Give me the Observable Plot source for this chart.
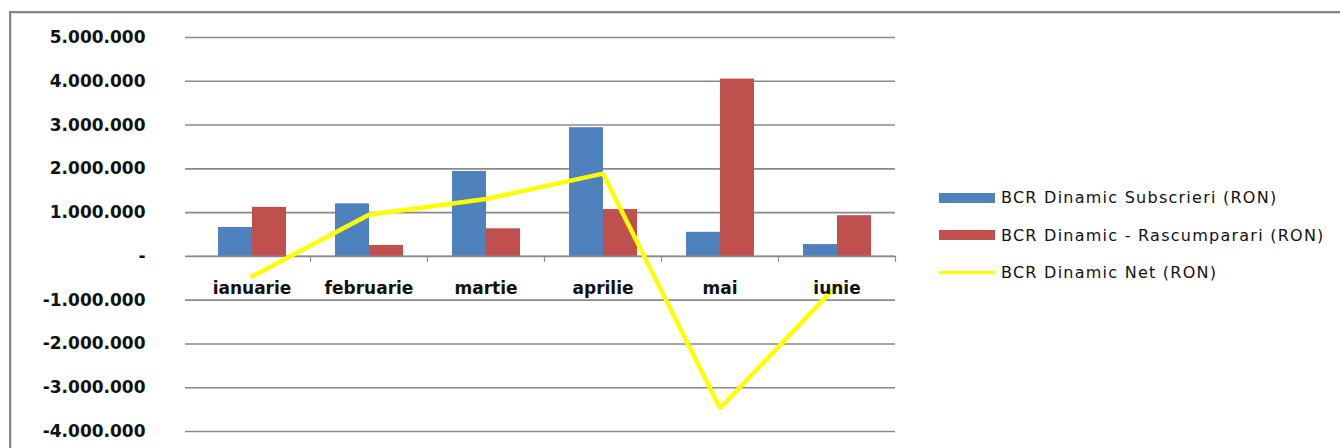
<!DOCTYPE html>
<html>
<head>
<meta charset="utf-8">
<script src="https://cdn.jsdelivr.net/npm/d3@7"></script>
<script src="https://cdn.jsdelivr.net/npm/@observablehq/plot@0.6"></script>
<style>
  html, body { margin: 0; padding: 0; background: #fff; }
  #wrap { position: relative; width: 1340px; height: 448px; overflow: hidden; font-family: "DejaVu Sans", sans-serif; }
  #frame { position: absolute; left: 9px; top: 11px; width: 1400px; height: 500px; border-top: 2px solid #878787; border-left: 2px solid #878787; box-shadow: inset 1px 1px 0 #d8d8d8; }
  #chart { position: absolute; left: 0; top: 0; }
  #legend { position: absolute; left: 939px; top: 179px; }
  .item { display: flex; align-items: center; height: 37.6px; }
  .sw { width: 56px; margin-right: 6px; }
  .lab { font-size: 16px; letter-spacing: 1.25px; color: #111; white-space: nowrap; }
</style>
</head>
<body>
<div id="wrap">
  <div id="frame"></div>
  <div id="chart"></div>
  <div id="legend"></div>
</div>
<script>
const months = ["ianuarie", "februarie", "martie", "aprilie", "mai", "iunie"];
const subscrieri = [660000, 1200000, 1940000, 2940000, 550000, 270000];
const rascumparari = [1120000, 250000, 630000, 1070000, 4050000, 930000];
const net = [-460000, 950000, 1310000, 1890000, -3470000, -660000];
const yTicks = [-4000000, -3000000, -2000000, -1000000, 0, 1000000, 2000000, 3000000, 4000000, 5000000];
const seriesNames = ["BCR Dinamic Subscrieri (RON)", "BCR Dinamic - Rascumparari (RON)", "BCR Dinamic Net (RON)"];
const seriesColors = ["#4F81BD", "#C0504D", "#FFFF00"];

const rows = months.map((m, i) => ({month: m, subs: subscrieri[i], rasc: rascumparari[i], net: net[i]}));

const ro = d3.formatLocale({decimal: ",", thousands: ".", grouping: [3], currency: ["", ""], minus: "-"});
const fmt = ro.format(",d");

const chart = Plot.plot({
  width: 920,
  height: 448,
  marginLeft: 193,
  marginRight: 25,
  marginTop: 37,
  marginBottom: 17,
  x: {domain: months, padding: 0, axis: null},
  y: {domain: [-4000000, 5000000], axis: null},
  style: {fontFamily: "DejaVu Sans, sans-serif", background: "transparent", overflow: "visible"},
  marks: [
    Plot.ruleY(yTicks, {y: d => d, stroke: "#8a8a8a", strokeWidth: 1.6, strokeOpacity: 1, insetLeft: -8}),
    Plot.barY(rows, {x: "month", y: "subs", fill: seriesColors[0], insetLeft: 25, insetRight: 58}),
    Plot.barY(rows, {x: "month", y: "rasc", fill: seriesColors[1], insetLeft: 59, insetRight: 24}),
    Plot.ruleY([0], {stroke: "#8a8a8a", strokeWidth: 1.2}),
    Plot.ruleX(months, {x: d => d, y1: () => 0, y2: () => 0, dx: 58.5, insetBottom: -6, stroke: "#8a8a8a", strokeWidth: 1.2}),
    Plot.lineY(rows, {x: "month", y: "net", stroke: seriesColors[2], strokeWidth: 4.5, strokeLinejoin: "miter"}),
    Plot.text(months, {x: d => d, y: () => 0, text: d => d, dy: 32, fontSize: 17, fontWeight: "bold", fill: "#111"}),
    Plot.axisY(yTicks, {tickSize: 0, tickPadding: 48, tickFormat: d => d === 0 ? "-" : fmt(d), fontSize: 17, fontWeight: "bold", fill: "#111", label: null})
  ]
});
document.getElementById("chart").appendChild(chart);

const legend = document.getElementById("legend");
seriesNames.forEach((name, i) => {
  const item = document.createElement("div");
  item.className = "item";
  const sw = document.createElement("div");
  sw.className = "sw";
  sw.style.background = seriesColors[i];
  sw.style.height = i < 2 ? "10px" : "3px";
  const lab = document.createElement("span");
  lab.className = "lab";
  lab.textContent = name;
  item.appendChild(sw);
  item.appendChild(lab);
  legend.appendChild(item);
});
</script>
</body>
</html>
